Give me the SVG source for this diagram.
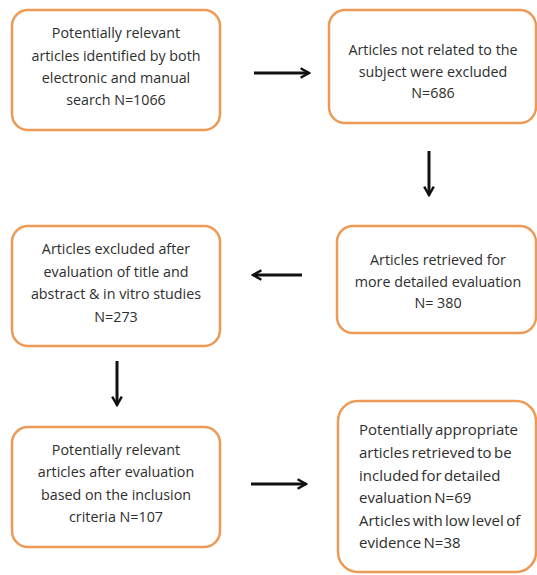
<svg xmlns="http://www.w3.org/2000/svg" width="537" height="575" viewBox="0 0 537 575">
<style>
.box{fill:#fff;stroke:#EC9A55;stroke-width:2.5}
.t{font-family:"Open Sans","Liberation Sans",sans-serif;font-size:14.3px;fill:#2e2e2e;text-anchor:middle}
.tl{font-family:"Open Sans","Liberation Sans",sans-serif;font-size:15px;fill:#2e2e2e;word-spacing:-1.5px}
.c{stroke:#111;stroke-width:3;fill:none}
</style>
<defs>
<marker id="ah" viewBox="0 0 10 10" refX="8" refY="5" markerWidth="4" markerHeight="4" orient="auto" markerUnits="strokeWidth">
<path d="M1,1 L8,5 L1,9" fill="none" stroke="#111" stroke-width="2"/>
</marker>
</defs>
<rect width="537" height="575" fill="#fff"/>
<g id="connectors">
<line class="c" x1="254" y1="73" x2="309" y2="73" marker-end="url(#ah)"/>
<line class="c" x1="429" y1="151" x2="429" y2="195" marker-end="url(#ah)"/>
<line class="c" x1="302" y1="275" x2="253" y2="275" marker-end="url(#ah)"/>
<line class="c" x1="117" y1="361" x2="117" y2="405" marker-end="url(#ah)"/>
<line class="c" x1="251" y1="484" x2="306" y2="484" marker-end="url(#ah)"/>
</g>
<g id="n1">
<rect class="box" x="12" y="10" width="208" height="120" rx="16"/>
<text class="t" x="116" y="38">Potentially relevant</text>
<text class="t" x="116" y="61">articles identified by both</text>
<text class="t" x="116" y="83">electronic and manual</text>
<text class="t" x="116" y="105">search N=1066</text>
</g>
<g id="n2">
<rect class="box" x="329" y="10" width="207" height="113" rx="16"/>
<text class="t" x="433" y="55">Articles not related to the</text>
<text class="t" x="433" y="77">subject were excluded</text>
<text class="t" x="433" y="98">N=686</text>
</g>
<g id="n3">
<rect class="box" x="12" y="226" width="208" height="120" rx="16"/>
<text class="t" x="116" y="254">Articles excluded after</text>
<text class="t" x="116" y="277">evaluation of title and</text>
<text class="t" x="116" y="299">abstract &amp; in vitro studies</text>
<text class="t" x="116" y="322">N=273</text>
</g>
<g id="n4">
<rect class="box" x="337" y="226" width="199" height="107" rx="16"/>
<text class="t" x="438" y="265">Articles retrieved for</text>
<text class="t" x="438" y="287">more detailed evaluation</text>
<text class="t" x="438" y="308">N= 380</text>
</g>
<g id="n5">
<rect class="box" x="12" y="427" width="208" height="120" rx="16"/>
<text class="t" x="116" y="455">Potentially relevant</text>
<text class="t" x="116" y="477">articles after evaluation</text>
<text class="t" x="116" y="500">based on the inclusion</text>
<text class="t" x="116" y="522">criteria N=107</text>
</g>
<g id="n6">
<rect class="box" x="338" y="401" width="198" height="171" rx="20"/>
<text class="tl" x="359" y="435">Potentially appropriate</text>
<text class="tl" x="359" y="458">articles retrieved to be</text>
<text class="tl" x="359" y="481">included for detailed</text>
<text class="tl" x="359" y="503">evaluation N=69</text>
<text class="tl" x="359" y="526">Articles with low level of</text>
<text class="tl" x="359" y="548">evidence N=38</text>
</g>
</svg>
